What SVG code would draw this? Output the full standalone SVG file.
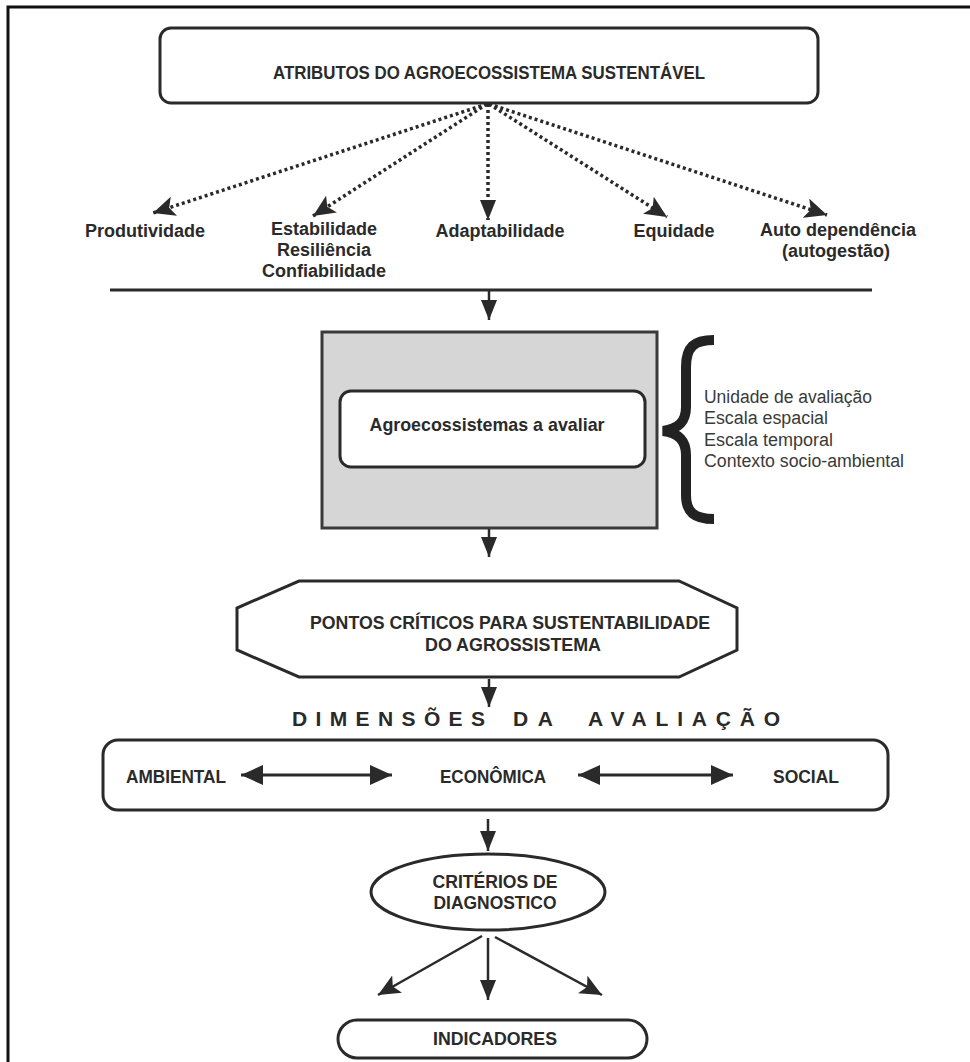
<svg xmlns="http://www.w3.org/2000/svg" width="970" height="1062" viewBox="0 0 970 1062">
<style>
.b{font-family:"Liberation Sans",Arial,sans-serif;font-weight:bold;fill:#2a2a2a;}
.r{font-family:"Liberation Sans",Arial,sans-serif;fill:#3a3a3a;}
.box{fill:#fff;stroke:#2a2a2a;stroke-width:3;}
.dot{stroke:#2a2a2a;stroke-width:3.5;stroke-dasharray:3 3;fill:none;}
.ln{stroke:#2a2a2a;stroke-width:2.5;fill:none;}
</style>
<defs>
<marker id="ah" markerUnits="userSpaceOnUse" markerWidth="24" markerHeight="20" refX="22" refY="10" orient="auto" viewBox="0 0 24 20">
<path d="M0,0 L22,10 L0,20 L5,10 z" fill="#2a2a2a"/>
</marker>
<marker id="at" markerUnits="userSpaceOnUse" markerWidth="20" markerHeight="16" refX="20" refY="8" orient="auto" viewBox="0 0 20 16">
<path d="M0,0 L20,8 L0,16 z" fill="#2a2a2a"/>
</marker>
<marker id="ad" markerUnits="userSpaceOnUse" markerWidth="22" markerHeight="20" refX="22" refY="10" orient="auto-start-reverse" viewBox="0 0 22 20">
<path d="M0,0 L22,10 L0,20 z" fill="#2a2a2a"/>
</marker>
</defs>
<rect width="970" height="1062" fill="#fff"/>
<g id="frame">
<path d="M8,1062 L8,7 L970,7" fill="none" stroke="#111" stroke-width="3"/>
</g>
<g id="atributos">
<rect class="box" x="160" y="28" width="658" height="75" rx="11"/>
<text class="b" x="489" y="79" font-size="19" text-anchor="middle" textLength="432" lengthAdjust="spacingAndGlyphs">ATRIBUTOS DO AGROECOSSISTEMA SUSTENTÁVEL</text>
</g>
<g id="produtividade"><text class="b" x="145" y="237" font-size="18" text-anchor="middle">Produtividade</text></g>
<g id="estabilidade">
<text class="b" x="324" y="235" font-size="18" text-anchor="middle">Estabilidade</text>
<text class="b" x="324" y="256" font-size="18" text-anchor="middle">Resiliência</text>
<text class="b" x="324" y="277" font-size="18" text-anchor="middle">Confiabilidade</text>
</g>
<g id="adaptabilidade"><text class="b" x="500" y="237" font-size="18" text-anchor="middle">Adaptabilidade</text></g>
<g id="equidade"><text class="b" x="674" y="237" font-size="18" text-anchor="middle">Equidade</text></g>
<g id="autodependencia">
<text class="b" x="838" y="236" font-size="18" text-anchor="middle">Auto dependência</text>
<text class="b" x="836" y="257" font-size="18" text-anchor="middle">(autogestão)</text>
</g>
<g id="barra"><line x1="110" y1="290" x2="872" y2="290" stroke="#2a2a2a" stroke-width="3"/></g>
<g id="agroecossistemas">
<rect x="322" y="332" width="335" height="196" fill="#d6d6d6" stroke="#3a3a3a" stroke-width="3"/>
<rect class="box" x="340" y="391" width="305" height="76" rx="11"/>
<text class="b" x="487" y="431" font-size="19" text-anchor="middle" textLength="235" lengthAdjust="spacingAndGlyphs">Agroecossistemas a avaliar</text>
</g>
<g id="contexto">
<path d="M714,340 C694,340 686,347 686,367 L686,407 C686,422 678,429 663,431 C678,433 686,440 686,455 L686,495 C686,512 694,519 714,519" fill="none" stroke="#222" stroke-width="10"/>
<text class="r" x="704" y="403" font-size="18" textLength="168" lengthAdjust="spacingAndGlyphs">Unidade de avaliação</text>
<text class="r" x="704" y="424" font-size="18" textLength="124" lengthAdjust="spacingAndGlyphs">Escala espacial</text>
<text class="r" x="704" y="446" font-size="18" textLength="129" lengthAdjust="spacingAndGlyphs">Escala temporal</text>
<text class="r" x="704" y="467" font-size="18" textLength="200" lengthAdjust="spacingAndGlyphs">Contexto socio-ambiental</text>
</g>
<g id="pontos">
<polygon class="box" points="299,581 679,581 737,608 737,650 679,677 299,677 237,650 237,608"/>
<text class="b" x="510" y="629" font-size="19" text-anchor="middle" textLength="400" lengthAdjust="spacingAndGlyphs">PONTOS CRÍTICOS PARA SUSTENTABILIDADE</text>
<text class="b" x="513" y="651" font-size="19" text-anchor="middle" textLength="176" lengthAdjust="spacingAndGlyphs">DO AGROSSISTEMA</text>
</g>
<g id="dimensoes-titulo">
<text class="b" x="292" y="726" font-size="21" textLength="193" lengthAdjust="spacing">DIMENSÕES</text>
<text class="b" x="513" y="726" font-size="21" textLength="40" lengthAdjust="spacing">DA</text>
<text class="b" x="588" y="726" font-size="21" textLength="192" lengthAdjust="spacing">AVALIAÇÃO</text>
</g>
<g id="dimensoes">
<rect class="box" x="103" y="740" width="785" height="70" rx="15"/>
<text class="b" x="176" y="783" font-size="19" text-anchor="middle" textLength="100" lengthAdjust="spacingAndGlyphs">AMBIENTAL</text>
<text class="b" x="493" y="783" font-size="19" text-anchor="middle" textLength="106" lengthAdjust="spacingAndGlyphs">ECONÔMICA</text>
<text class="b" x="806" y="783" font-size="19" text-anchor="middle" textLength="66" lengthAdjust="spacingAndGlyphs">SOCIAL</text>
</g>
<g id="criterios">
<ellipse class="box" cx="488" cy="892" rx="117" ry="38"/>
<text class="b" x="495" y="888" font-size="19" text-anchor="middle" textLength="125" lengthAdjust="spacingAndGlyphs">CRITÉRIOS DE</text>
<text class="b" x="495" y="909" font-size="19" text-anchor="middle" textLength="123" lengthAdjust="spacingAndGlyphs">DIAGNOSTICO</text>
</g>
<g id="indicadores">
<rect class="box" x="338" y="1020" width="309" height="38" rx="19"/>
<text class="b" x="495" y="1045" font-size="19" text-anchor="middle" textLength="124" lengthAdjust="spacingAndGlyphs">INDICADORES</text>
</g>
<g id="connectors">
<line class="dot" x1="487" y1="104" x2="153" y2="213" marker-end="url(#ah)"/>
<line class="dot" x1="487" y1="104" x2="313" y2="216" marker-end="url(#ah)"/>
<line class="dot" x1="488" y1="104" x2="488" y2="220" marker-end="url(#at)"/>
<line class="dot" x1="489" y1="104" x2="667" y2="217" marker-end="url(#ah)"/>
<line class="dot" x1="489" y1="104" x2="827" y2="215" marker-end="url(#ah)"/>
<line class="ln" x1="489" y1="291" x2="489" y2="320" marker-end="url(#at)"/>
<line class="ln" x1="489" y1="529" x2="489" y2="557" marker-end="url(#at)"/>
<line class="ln" x1="489" y1="679" x2="489" y2="707" marker-end="url(#at)"/>
<line x1="241" y1="775" x2="392" y2="775" stroke="#2a2a2a" stroke-width="3" marker-start="url(#ad)" marker-end="url(#ad)"/>
<line x1="578" y1="775" x2="733" y2="775" stroke="#2a2a2a" stroke-width="3" marker-start="url(#ad)" marker-end="url(#ad)"/>
<line class="ln" x1="488" y1="819" x2="488" y2="851" marker-end="url(#at)"/>
<line class="ln" x1="482" y1="936" x2="378" y2="995" marker-end="url(#ah)"/>
<line class="ln" x1="488" y1="938" x2="488" y2="1000" marker-end="url(#at)"/>
<line class="ln" x1="495" y1="937" x2="602" y2="995" marker-end="url(#ah)"/>
</g>
</svg>
